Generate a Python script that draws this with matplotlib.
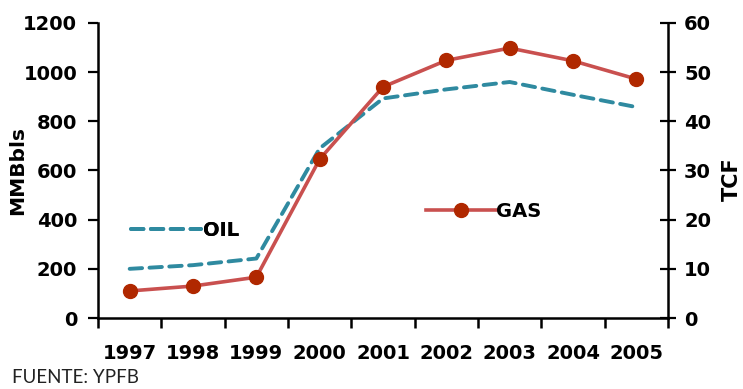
import numpy as np
import matplotlib
matplotlib.use("Agg")
import matplotlib.pyplot as plt

# reservas probadas + probables, Bolivia
years = ["1997", "1998", "1999", "2000", "2001", "2002", "2003", "2004", "2005"]
oil_mmbbls = [200, 215, 242, 690, 893, 930, 960, 908, 858]
gas_tcf = [5.5, 6.5, 8.3, 32.3, 47.0, 52.4, 54.9, 52.3, 48.6]

oil_color = "#2f8aa0"
gas_line_color = "#c9504f"
gas_marker_color = "#b02800"

fig = plt.figure(figsize=(7.43, 3.89), dpi=100)
ax = fig.add_axes([0.1319, 0.1825, 0.7672, 0.7584])
ax2 = ax.twinx()

x = np.arange(len(years))

oil_line, = ax.plot(x, oil_mmbbls, color=oil_color, lw=2.8,
                    dashes=(3.2, 1.9), dash_capstyle="round", label="OIL")
gas_line, = ax2.plot(x, gas_tcf, color=gas_line_color, lw=2.6,
                     marker="o", ms=10, mfc=gas_marker_color, mec=gas_marker_color,
                     label="GAS")

ax.set_xlim(-0.5, len(years) - 0.5)
ax.set_ylim(0, 1200)
ax2.set_ylim(0, 60)
ax.set_yticks(np.arange(0, 1201, 200))
ax2.set_yticks(np.arange(0, 61, 10))

# category boundaries get the tick marks, labels sit in between
ax.set_xticks(np.arange(-0.5, len(years), 1.0))
ax.set_xticklabels([])
ax.set_xticks(x, minor=True)
ax.set_xticklabels(years, minor=True, fontsize=14, fontweight="bold",
                   family="DejaVu Sans")
ax.tick_params(axis="x", which="minor", length=0, pad=18.5)
ax.tick_params(axis="x", which="major", direction="out", length=7, width=1.8)
ax.tick_params(axis="y", direction="out", length=7, width=1.6, labelsize=14, pad=8)
ax2.tick_params(axis="y", direction="inout", length=11, width=1.6, labelsize=14, pad=6)

for t in ax.get_yticklabels() + ax2.get_yticklabels():
    t.set_fontweight("bold")

for a in (ax, ax2):
    a.spines["top"].set_visible(False)
    for s in ("left", "right", "bottom"):
        a.spines[s].set_linewidth(1.8)
ax.spines["right"].set_visible(False)
ax2.spines["left"].set_visible(False)
ax2.spines["bottom"].set_visible(False)

ax.set_ylabel("MMBbls", fontsize=14.5, fontweight="bold")
ax.yaxis.set_label_coords(-0.125, 0.5)
ax2.set_ylabel("TCF", fontsize=15, fontweight="bold")
ax2.yaxis.set_label_coords(1.094, 0.47)

leg1 = ax.legend(handles=[oil_line], loc="center left", bbox_to_anchor=(0.058, 0.298),
                 frameon=False, fontsize=14, handlelength=3.6, handletextpad=0.1,
                 borderpad=0, borderaxespad=0)
for t in leg1.get_texts():
    t.set_fontweight("bold")
ax.add_artist(leg1)
leg2 = ax2.legend(handles=[gas_line], loc="center left", bbox_to_anchor=(0.575, 0.36),
                  frameon=False, fontsize=14, handlelength=3.6, handletextpad=0.0,
                  borderpad=0, borderaxespad=0, numpoints=1)
for t in leg2.get_texts():
    t.set_fontweight("bold")

fig.text(0.016, 0.008, "FUENTE: YPFB", fontsize=13.5, family="Lato", color="#222222",
         va="bottom")

fig.savefig("out.png", dpi=100)
